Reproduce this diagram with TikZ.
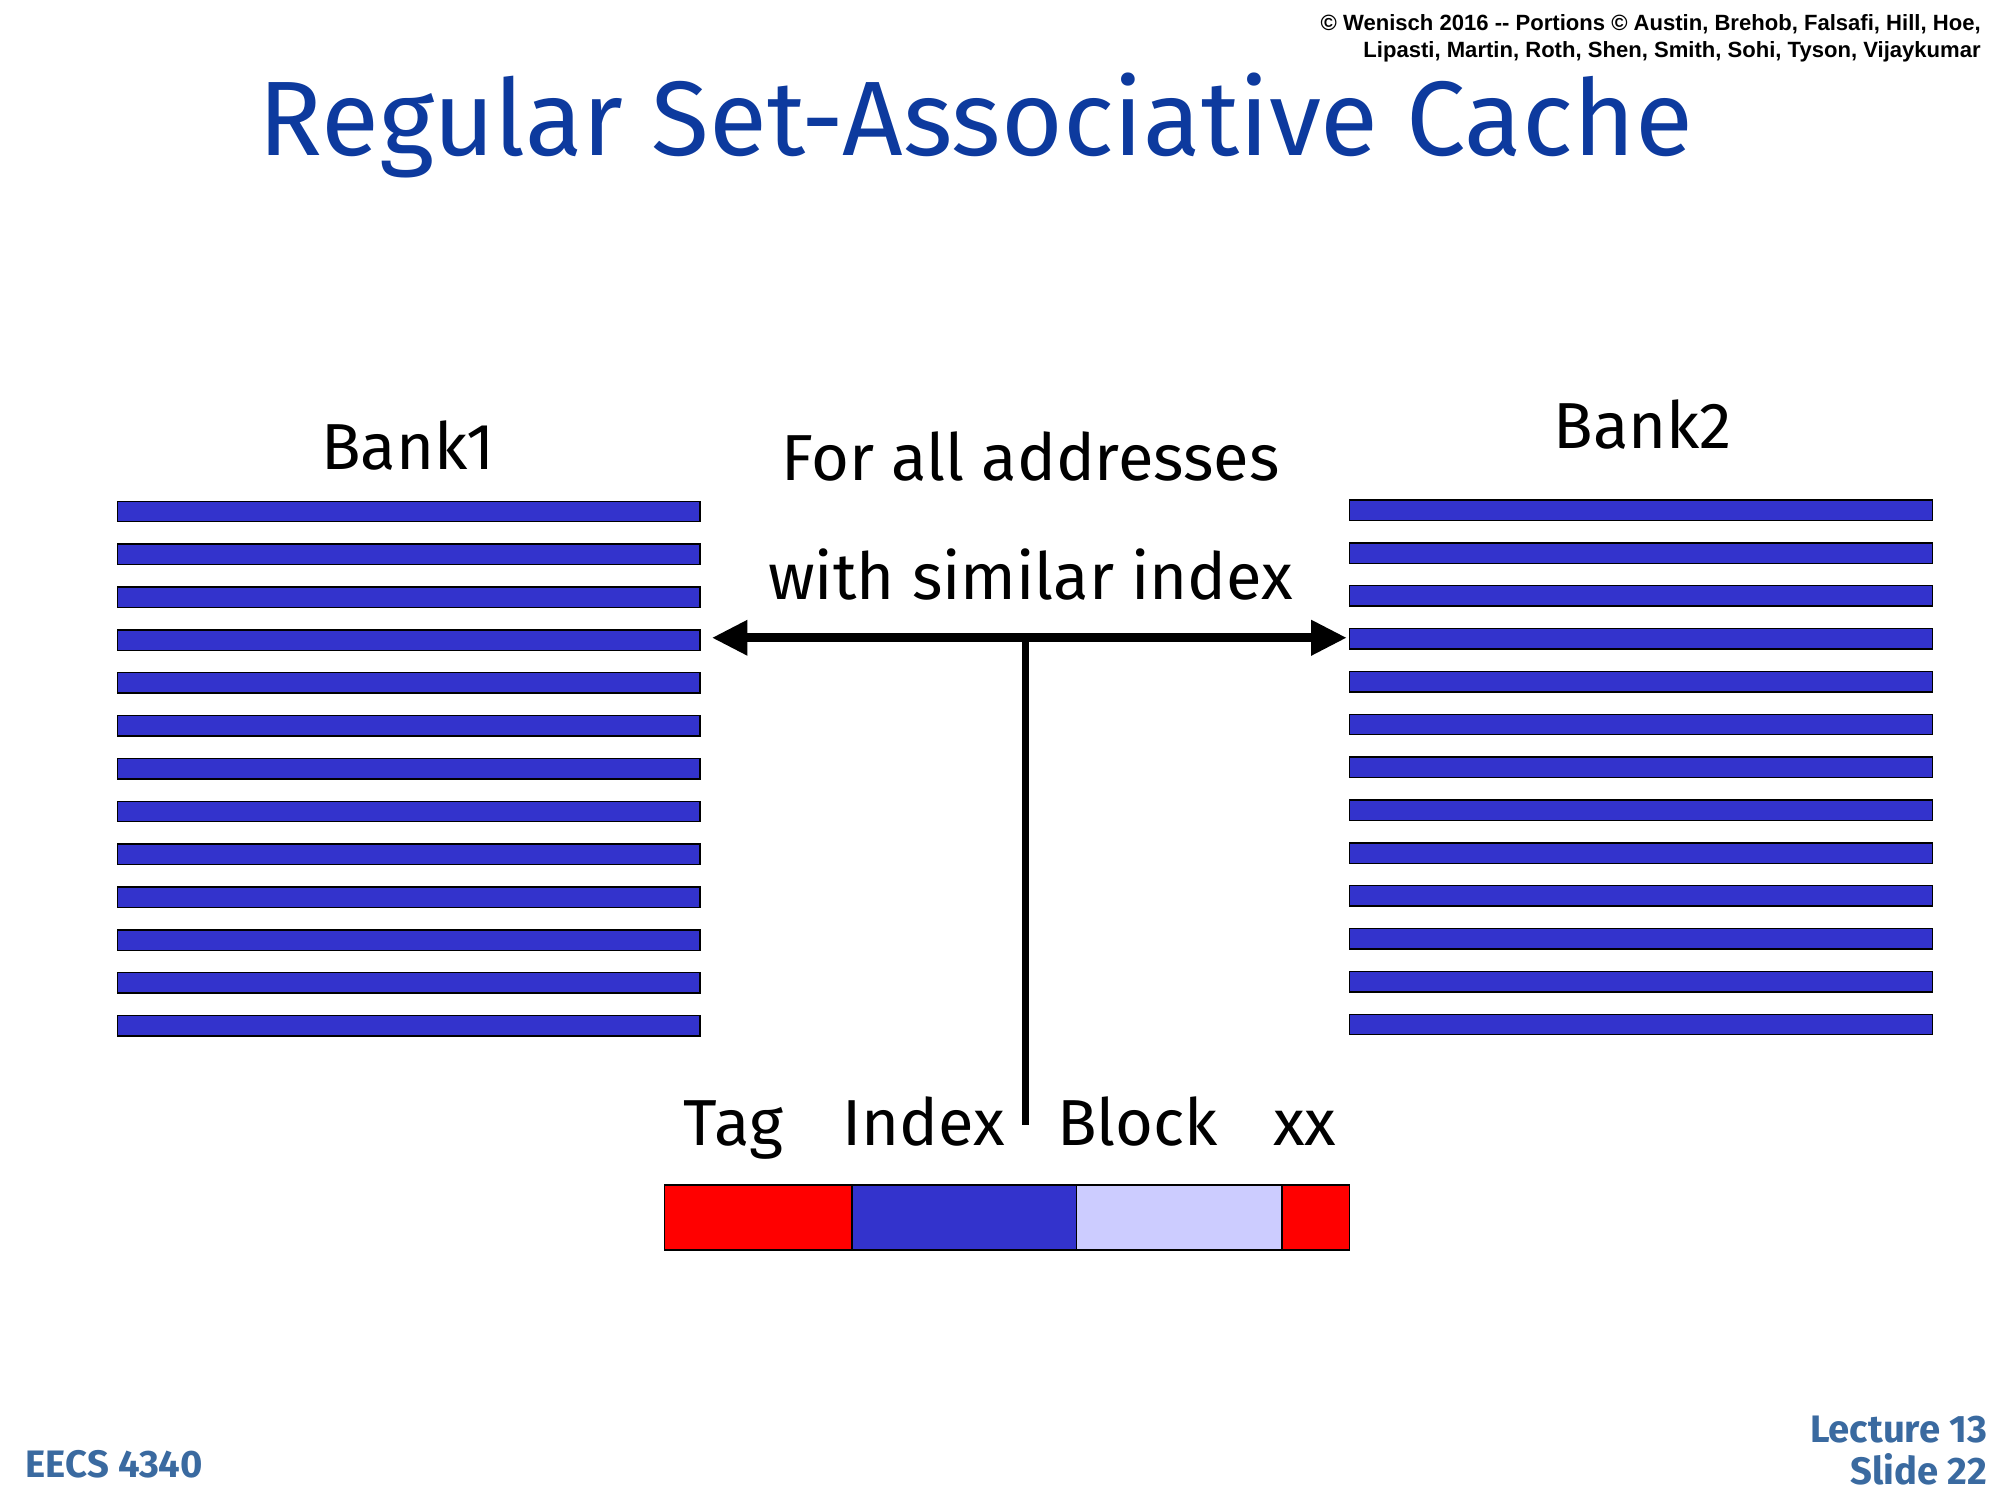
\documentclass[tikz,border=0pt]{standalone}
\usepackage{fontspec}
\usetikzlibrary{arrows.meta}
\setmainfont{Fira Sans}
\newfontfamily\arial{Liberation Sans}
\begin{document}
\begin{tikzpicture}[x=1pt,y=-1pt,
  bar/.style={draw=black,fill=barblue,line width=1.2pt},
  lbl/.style={font=\fontsize{51}{55}\selectfont,inner sep=0,anchor=base},
  foot/.style={font=\bfseries\fontsize{30}{33}\selectfont,text=footblue,inner sep=0}]
\definecolor{barblue}{HTML}{3333CC}
\definecolor{titleblue}{HTML}{0D3A9E}
\definecolor{footblue}{HTML}{3A6AA0}
\definecolor{lightblue}{HTML}{CCCCFF}
\useasboundingbox (0,0) rectangle (1568,1176);
\fill[white] (0,0) rectangle (1568,1176);
\node[anchor=east,align=right,font=\arial\bfseries\fontsize{17.3}{21}\selectfont,inner sep=0] (copy) at (1553,30) {© Wenisch 2016 -{}- Portions © Austin, Brehob, Falsafi, Hill, Hoe,\\Lipasti, Martin, Roth, Shen, Smith, Sohi, Tyson, Vijaykumar};
\node[font=\fontsize{83}{90}\selectfont,text=titleblue,inner sep=0,anchor=base] (title) at (765,122) {Regular Set-Associative Cache};
\foreach \i in {0,...,12}{
  \fill[bar] (92,{393+\i*33.6}) rectangle (549,{409+\i*33.6});
  \fill[bar] (1058,{392+\i*33.6}) rectangle (1515,{408+\i*33.6});
}
\node[lbl] (bank1) at (320,368) {Bank1};
\node[lbl] (bank2) at (1288,352) {Bank2};
\node[lbl] (t1) at (808,377) {For all addresses};
\node[lbl] (t2) at (808,470) {with similar index};
\coordinate (L) at (558,500);
\coordinate (R) at (1056,500);
\coordinate (J) at (804,500);
\coordinate (B) at (804,882);
\draw[line width=7pt,-{Triangle[length=28pt,width=26pt]}] (J) -- (L);
\draw[line width=7pt,-{Triangle[length=28pt,width=26pt]}] (J) -- (R);
\draw[line width=5pt] (J) -- (B);
\node[lbl] (tag) at (575,898) {Tag};
\node[lbl] (index) at (724,898) {Index};
\node[lbl] (block) at (892,898) {Block};
\node[lbl] (xx) at (1023,898) {xx};
\draw[fill=red,line width=1.2pt] (521,929) rectangle (668,980);
\draw[fill=barblue,line width=1.2pt] (668,929) rectangle (844,980);
\draw[fill=lightblue,line width=1.2pt] (844,929) rectangle (1005,980);
\draw[fill=red,line width=1.2pt] (1005,929) rectangle (1058,980);
\node[foot,anchor=west] (eecs) at (20,1148) {EECS 4340};
\node[foot,anchor=east,align=right] (lec) at (1558,1137) {Lecture 13\\Slide 22};
\end{tikzpicture}
\end{document}
